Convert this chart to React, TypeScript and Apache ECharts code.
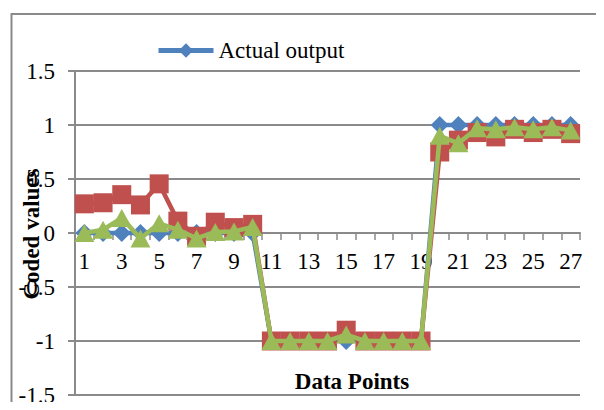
import React, { useEffect, useRef } from "react";
import * as echarts from "echarts";

const categories = Array.from({ length: 27 }, (_, i) => String(i + 1));
const actualOutput = [0, 0, 0, 0, 0, 0, 0, 0, 0, 0, -1, -1, -1, -1, -1, -1, -1, -1, -1, 1, 1, 1, 1, 1, 1, 1, 1];
const redSeries = [0.27, 0.28, 0.355, 0.26, 0.455, 0.11, -0.03, 0.1, 0.05, 0.08, -1, -1, -1, -1, -0.9, -1, -1, -1, -1, 0.75, 0.86, 0.93, 0.89, 0.96, 0.93, 0.96, 0.92];
const greenSeries = [0.0, 0.03, 0.14, -0.05, 0.09, 0.03, -0.05, 0.01, 0.015, 0.055, -1, -1, -1, -1, -0.94, -1, -1, -1, -1, 0.9, 0.83, 0.97, 0.96, 0.98, 0.96, 0.98, 0.95];
const yTicks = { min: -1.5, max: 1.5, interval: 0.5 };

const FONT = "'Liberation Serif', 'Times New Roman', serif";
const GRAY = "#8a8a8a";
const FS = 23;
const GRID_TOP = 71;
const GRID_BOTTOM = 15;
const CHART_H = 410;

export default function App() {
  const ref = useRef<HTMLDivElement>(null);
  useEffect(() => {
    if (!ref.current) return;
    const chart = echarts.init(ref.current, undefined, { renderer: "svg" });
    const plotH = CHART_H - GRID_TOP - GRID_BOTTOM;
    const zeroFromBottom = (plotH * (0 - yTicks.min)) / (yTicks.max - yTicks.min);
    chart.setOption({
      animation: false,
      textStyle: { fontFamily: FONT },
      grid: { left: 75, right: 24, top: GRID_TOP, bottom: GRID_BOTTOM, containLabel: false, outerBoundsMode: "none" },
      legend: {
        data: ["Actual output"],
        left: 151,
        top: 34,
        itemWidth: 55,
        itemHeight: 18,
        itemGap: 4,
        lineStyle: { width: 5 },
        textStyle: { fontFamily: FONT, fontSize: FS, color: "#000" },
      },
      graphic: [
        {
          type: "rect",
          shape: { x: 11.5, y: 14, width: 700, height: 500 },
          style: { fill: "none", stroke: GRAY, lineWidth: 2 },
          silent: true,
        },
        {
          type: "text",
          x: 352,
          y: 381,
          style: {
            text: "Data Points",
            fontFamily: FONT,
            fontSize: FS,
            fontWeight: "bold",
            fill: "#000",
            align: "center",
            verticalAlign: "middle",
          },
        },
        {
          type: "text",
          x: 31,
          y: 234,
          rotation: Math.PI / 2,
          style: {
            text: "Coded values",
            fontFamily: FONT,
            fontSize: FS,
            fontWeight: "bold",
            fill: "#000",
            align: "center",
            verticalAlign: "middle",
          },
        },
      ],
      xAxis: {
        type: "category",
        data: categories,
        boundaryGap: true,
        position: "bottom",
        offset: -zeroFromBottom,
        axisLine: { onZero: false, lineStyle: { color: GRAY, width: 2 } },
        axisTick: { show: true, interval: 0, length: 7, alignWithLabel: false, lineStyle: { color: GRAY, width: 1.5 } },
        axisLabel: { interval: 1, margin: 17, fontSize: FS, color: "#000", fontFamily: FONT },
        splitLine: { show: false },
      },
      yAxis: {
        type: "value",
        min: yTicks.min,
        max: yTicks.max,
        interval: yTicks.interval,
        axisLine: { show: true, onZero: false, lineStyle: { color: GRAY, width: 2 } },
        axisTick: { show: true, length: 7, lineStyle: { color: GRAY, width: 2 } },
        axisLabel: { margin: 20, fontSize: FS, color: "#000", fontFamily: FONT },
        splitLine: { show: true, lineStyle: { color: GRAY, width: 2 } },
      },
      series: [
        {
          name: "Actual output",
          type: "line",
          data: actualOutput,
          symbol: "diamond",
          symbolSize: 18,
          showAllSymbol: true,
          lineStyle: { color: "#4F81BD", width: 4.5 },
          itemStyle: { color: "#4F81BD" },
          z: 2,
        },
        {
          name: "Output 2",
          type: "line",
          data: redSeries,
          symbol: "rect",
          symbolSize: 19,
          showAllSymbol: true,
          lineStyle: { color: "#C0504D", width: 4.5 },
          itemStyle: { color: "#C0504D" },
          z: 3,
        },
        {
          name: "Output 3",
          type: "line",
          data: greenSeries,
          symbol: "triangle",
          symbolSize: [20, 18],
          showAllSymbol: true,
          lineStyle: { color: "#9BBB59", width: 4.5 },
          itemStyle: { color: "#9BBB59" },
          z: 4,
        },
      ],
    });
    return () => chart.dispose();
  }, []);
  return <div ref={ref} style={{ width: 604, height: 410, margin: -8 }} />;
}
